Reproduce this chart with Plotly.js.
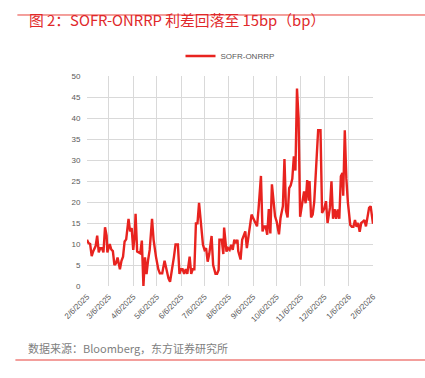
<!DOCTYPE html>
<html>
<head>
<meta charset="utf-8">
<script src="https://cdn.plot.ly/plotly-3.0.1.min.js"></script>
<style>
html,body{margin:0;padding:0;background:#fff;}
#chart{width:425px;height:378px;}
</style>
</head>
<body>
<div id="chart"></div>
<script>
// ---- data ----
var dates = [
"2025-02-06","2025-02-08","2025-02-10","2025-02-12","2025-02-14","2025-02-17","2025-02-19","2025-02-21","2025-02-23","2025-02-25","2025-02-27",
"2025-03-01","2025-03-03","2025-03-04","2025-03-07","2025-03-09","2025-03-11","2025-03-13","2025-03-15","2025-03-17","2025-03-20","2025-03-22","2025-03-24","2025-03-26","2025-03-28","2025-03-31",
"2025-04-02","2025-04-04","2025-04-06","2025-04-08","2025-04-09","2025-04-11","2025-04-13","2025-04-15","2025-04-17","2025-04-19","2025-04-21","2025-04-23","2025-04-25","2025-04-27","2025-04-30",
"2025-05-02","2025-05-05","2025-05-08","2025-05-10","2025-05-13","2025-05-16","2025-05-18","2025-05-21","2025-05-23","2025-05-25","2025-05-28","2025-05-30",
"2025-06-02","2025-06-04","2025-06-06","2025-06-08","2025-06-10","2025-06-12","2025-06-14","2025-06-17","2025-06-19","2025-06-21","2025-06-23","2025-06-25","2025-06-27","2025-06-29",
"2025-07-01","2025-07-04","2025-07-06","2025-07-08","2025-07-10","2025-07-12","2025-07-15","2025-07-17","2025-07-20","2025-07-22","2025-07-24","2025-07-25","2025-07-28","2025-07-30","2025-07-31",
"2025-08-03","2025-08-05","2025-08-07","2025-08-09","2025-08-11","2025-08-13","2025-08-15","2025-08-17","2025-08-18","2025-08-21","2025-08-23","2025-08-25","2025-08-27","2025-08-29","2025-08-31",
"2025-09-02","2025-09-04","2025-09-06","2025-09-09","2025-09-11","2025-09-13","2025-09-16","2025-09-18","2025-09-20","2025-09-22","2025-09-24","2025-09-26","2025-09-28","2025-09-30",
"2025-10-02","2025-10-04","2025-10-06","2025-10-09","2025-10-11","2025-10-13","2025-10-14","2025-10-16","2025-10-18","2025-10-20","2025-10-22","2025-10-24","2025-10-26","2025-10-28","2025-10-30",
"2025-11-01","2025-11-03","2025-11-05","2025-11-07","2025-11-10","2025-11-12","2025-11-14","2025-11-16","2025-11-17","2025-11-19","2025-11-21","2025-11-23","2025-11-26","2025-11-28",
"2025-12-01","2025-12-03","2025-12-06","2025-12-08","2025-12-10","2025-12-13","2025-12-15","2025-12-17","2025-12-19","2025-12-21","2025-12-23","2025-12-25","2025-12-27","2025-12-29","2025-12-30",
"2026-01-01","2026-01-03","2026-01-05","2026-01-08","2026-01-10","2026-01-12","2026-01-14","2026-01-16","2026-01-18","2026-01-20","2026-01-22","2026-01-24","2026-01-26","2026-01-28","2026-01-30",
"2026-02-01","2026-02-03","2026-02-05","2026-02-06"
];
var spread = [
11,10.2,10,7.1,8.3,9.5,12,8,9,9,8,
14,12,8,10,8.7,8.3,5,5.4,6.8,4,6,7,10.6,11.1,16,
13,13.8,8.6,12.5,17.2,8.2,8,7.8,10.8,0,6.8,2.8,6.2,8.6,16,
11,7,4,3,3,6,4.2,1.8,1,3,7,9.9,
9.9,2.9,4,4,2.9,4,2.9,7,2.9,4,4,14.9,14.9,19.8,
15.7,9.8,8.6,9,5.8,7.6,11.9,5,2.9,2.9,3.8,11,11,7.6,13.9,
8.2,9,8.6,9.8,8.6,11,10.2,11,8.3,6.3,11,12,13,9,11.4,
14,17,16.2,15,14.2,18.5,26.2,13,14.2,14.2,12.2,18.3,12.5,24.2,
20,16.6,15.4,12.3,16.2,17.8,19,30.2,17.9,16.3,23.3,24,25.5,30.9,27.5,
47,40,16.5,18.9,22.5,19.7,25.2,20.3,25,16.3,17,20,29.3,37.1,
37.1,17.4,18.5,20.2,15,18.6,24.9,16,18.3,16,18.2,16,26.1,26.9,21.5,
37.1,25.5,19.8,14.5,14.1,14.1,15.7,14.1,15,12.9,15,15.3,15.7,14.2,17,
18.6,19,15,14.8
];
var seriesName = "SOFR-ONRRP";
var tickDates = ["2025-02-06","2025-03-06","2025-04-06","2025-05-06","2025-06-06","2025-07-06","2025-08-06","2025-09-06","2025-10-06","2025-11-06","2025-12-06","2026-01-06","2026-02-06"];
var tickLabels = ["2/6/2025","3/6/2025","4/6/2025","5/6/2025","6/6/2025","7/6/2025","8/6/2025","9/6/2025","10/6/2025","11/6/2025","12/6/2025","1/6/2026","2/6/2026"];
var yTicks = [0,5,10,15,20,25,30,35,40,45,50];
var titleText = "图 2：SOFR-ONRRP 利差回落至 15bp（bp）";
var sourceText = "数据来源：Bloomberg，东方证券研究所";

var RED = "#e8231f";
var trace = {
  x: dates, y: spread, type: "scatter", mode: "lines", name: seriesName,
  line: {color: RED, width: 2.4}
};

var layout = {
  width: 425, height: 378,
  margin: {l: 87, r: 52, t: 76, b: 92, pad: 0},
  paper_bgcolor: "#fff", plot_bgcolor: "#fff",
  font: {family: "Liberation Sans, Arial, sans-serif", color: "#595959", size: 8},
  showlegend: true,
  legend: {orientation: "h", x: 0.5, xanchor: "center", y: 1.095, yanchor: "middle",
           font: {size: 8, color: "#595959"}, bgcolor: "rgba(0,0,0,0)"},
  xaxis: {
    type: "date", range: ["2025-02-06", "2026-02-06"],
    tickmode: "array", tickvals: tickDates, ticktext: tickLabels,
    tickangle: -45, tickfont: {size: 8, color: "#595959"},
    showgrid: true, gridcolor: "#d9d9d9", gridwidth: 1,
    showline: false, zeroline: false, ticks: "outside", ticklen: 2, tickcolor: "rgba(0,0,0,0)"
  },
  yaxis: {
    range: [0, 50], tickmode: "array", tickvals: yTicks,
    tickfont: {size: 8, color: "#595959"},
    showgrid: true, gridcolor: "#d9d9d9", gridwidth: 1,
    showline: false, zeroline: false, ticks: "outside", ticklen: 4, tickcolor: "rgba(0,0,0,0)"
  },
  shapes: [
    {type: "line", xref: "paper", yref: "paper", x0: -0.2434, x1: 1.19, y0: 1.2905, y1: 1.2905,
     line: {color: "#e8403a", width: 1}},
    {type: "line", xref: "paper", yref: "paper", x0: -0.2504, x1: 1.19, y0: -0.3524, y1: -0.3524,
     line: {color: "#e8403a", width: 1.2}}
  ],
  annotations: [
    {text: titleText, xref: "paper", yref: "paper", x: -0.209, y: 1.2667, xanchor: "left", yanchor: "middle",
     showarrow: false, font: {family: "Noto Sans CJK SC, sans-serif", size: 14.8, color: "#e0282a"}},
    {text: sourceText, xref: "paper", yref: "paper", x: -0.212, y: -0.295, xanchor: "left", yanchor: "middle",
     showarrow: false, font: {family: "Noto Sans CJK SC, sans-serif", size: 11, color: "#808080"}}
  ]
};

Plotly.newPlot("chart", [trace], layout, {displayModeBar: false, staticPlot: true});
</script>
</body>
</html>
